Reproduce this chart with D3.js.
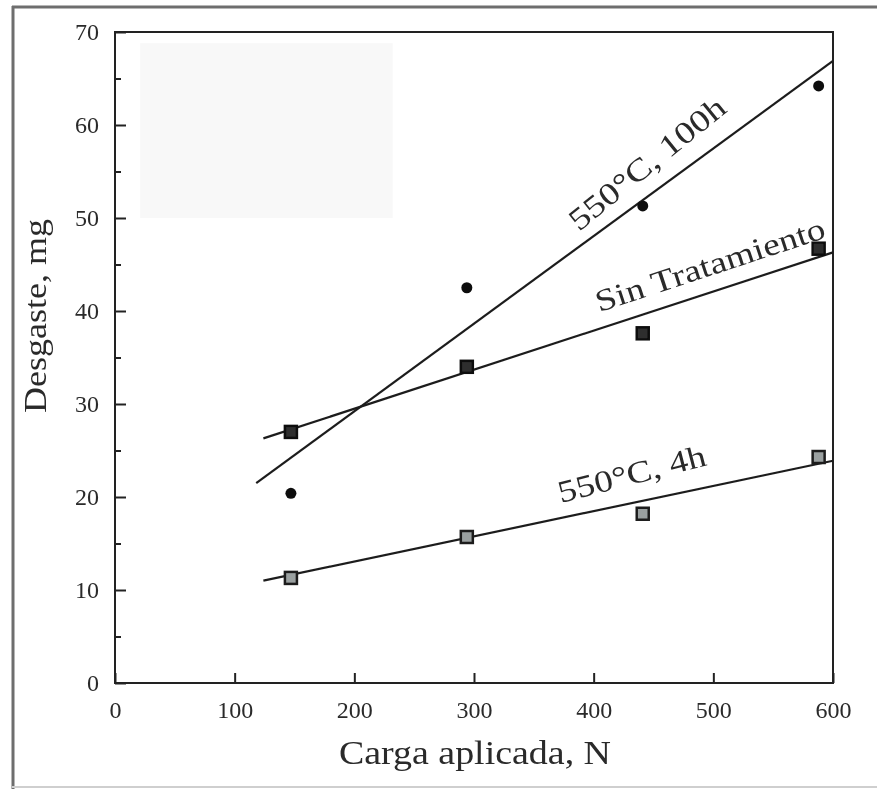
<!DOCTYPE html>
<html>
<head>
<meta charset="utf-8">
<script src="https://cdn.jsdelivr.net/npm/d3@7/dist/d3.min.js"></script>
<style>
  html, body { margin: 0; padding: 0; background: #fff; }
  svg { display: block; }
  text { font-family: "Liberation Serif", "DejaVu Serif", serif; fill: #2a2a2a; }
</style>
</head>
<body>
<script>
// Applied load (N) for each test
const loads = [147, 294, 441, 588];

// Measured wear (mg) for each condition
const wear100h = [20.4, 42.5, 51.3, 64.2];      // 550°C, 100h
const wearUntreated = [27.0, 34.0, 37.6, 46.7]; // Sin Tratamiento
const wear4h = [11.3, 15.7, 18.2, 24.3];        // 550°C, 4h

// Straight-line fits: [x start, x end] and [y start, y end]
const fit100hX = [118, 600];
const fit100hY = [21.5, 66.9];
const fitUntreatedX = [124, 600];
const fitUntreatedY = [26.3, 46.3];
const fit4hX = [124, 600];
const fit4hY = [11.0, 23.9];

// Axis ticks
const xTicks = [0, 100, 200, 300, 400, 500, 600];
const yTicks = [0, 10, 20, 30, 40, 50, 60, 70];
const yMinorTicks = [5, 15, 25, 35, 45, 55, 65];

const W = 877, H = 789;
const plot = { left: 115, right: 833, top: 32, bottom: 683 };

const svg = d3.select("body").append("svg")
  .attr("width", W).attr("height", H);

const defs = svg.append("defs");
defs.append("filter").attr("id", "soft")
  .attr("x", "-5%").attr("y", "-5%").attr("width", "110%").attr("height", "110%")
  .append("feGaussianBlur").attr("stdDeviation", 0.6);

// Outer frame
svg.append("line").attr("x1", 13).attr("x2", 13).attr("y1", 6).attr("y2", H)
  .attr("stroke", "#6e6e6e").attr("stroke-width", 3);
svg.append("line").attr("x1", 12).attr("x2", W).attr("y1", 7).attr("y2", 7)
  .attr("stroke", "#6e6e6e").attr("stroke-width", 3);
svg.append("line").attr("x1", 12).attr("x2", W).attr("y1", 787).attr("y2", 787)
  .attr("stroke", "#cfcfcf").attr("stroke-width", 2);

const g = svg.append("g").attr("filter", "url(#soft)");

const x = d3.scaleLinear().domain([0, 600]).range([plot.left, plot.right]);
const y = d3.scaleLinear().domain([0, 70]).range([plot.bottom, plot.top]);

// Faint patch in the upper-left of the plot
g.append("rect")
  .attr("x", x(21)).attr("y", y(68.8))
  .attr("width", x(232) - x(21)).attr("height", y(50) - y(68.8))
  .attr("fill", "#f8f8f8");

// Axes (ticks point inward)
const xAxis = g.append("g").attr("transform", `translate(0,${plot.bottom})`)
  .call(d3.axisBottom(x).tickValues(xTicks).tickSize(-10).tickPadding(18).tickFormat(d3.format("d")));
const yAxis = g.append("g").attr("transform", `translate(${plot.left},0)`)
  .call(d3.axisLeft(y).tickValues(yTicks).tickSize(-11).tickPadding(16).tickFormat(d3.format("d")));
g.append("g").attr("transform", `translate(${plot.left},0)`)
  .call(d3.axisLeft(y).tickValues(yMinorTicks).tickSize(-6).tickFormat(""))
  .call(a => a.select(".domain").remove());

[xAxis, yAxis].forEach(a => {
  a.select(".domain").remove();
  a.selectAll(".tick text").attr("font-size", 24).attr("fill", "#3a3a3a")
    .style("font-family", "'Liberation Serif', serif");
});
g.selectAll(".tick line").attr("stroke", "#222").attr("stroke-width", 2);

// Plot frame
g.append("rect")
  .attr("x", plot.left).attr("y", plot.top)
  .attr("width", plot.right - plot.left).attr("height", plot.bottom - plot.top)
  .attr("fill", "none").attr("stroke", "#222").attr("stroke-width", 2);

// Fit lines
const lineGen = d3.line().x(d => x(d[0])).y(d => y(d[1]));
[[fit100hX, fit100hY], [fitUntreatedX, fitUntreatedY], [fit4hX, fit4hY]].forEach(([fx, fy]) => {
  g.append("path")
    .attr("d", lineGen(fx.map((v, i) => [v, fy[i]])))
    .attr("fill", "none").attr("stroke", "#1e1e1e").attr("stroke-width", 2.2);
});

// 550°C, 100h — filled circles
g.selectAll(".c100").data(loads.map((l, i) => [l, wear100h[i]])).join("circle")
  .attr("class", "c100")
  .attr("cx", d => x(d[0])).attr("cy", d => y(d[1])).attr("r", 5.5)
  .attr("fill", "#111");

// Sin Tratamiento — filled squares
const sq = 12;
g.selectAll(".sUn").data(loads.map((l, i) => [l, wearUntreated[i]])).join("rect")
  .attr("class", "sUn")
  .attr("x", d => x(d[0]) - sq / 2).attr("y", d => y(d[1]) - sq / 2)
  .attr("width", sq).attr("height", sq)
  .attr("fill", "#2e2e2e").attr("stroke", "#111").attr("stroke-width", 2.5);

// 550°C, 4h — open squares
g.selectAll(".s4h").data(loads.map((l, i) => [l, wear4h[i]])).join("rect")
  .attr("class", "s4h")
  .attr("x", d => x(d[0]) - sq / 2).attr("y", d => y(d[1]) - sq / 2)
  .attr("width", sq).attr("height", sq)
  .attr("fill", "#9aa0a0").attr("stroke", "#1e1e1e").attr("stroke-width", 2.5);

// Curve labels
function curveLabel(txt, dx, dy, angle, len) {
  g.append("text")
    .attr("transform", `translate(${x(dx)},${y(dy)}) rotate(${angle})`)
    .attr("text-anchor", "middle")
    .attr("font-size", 31)
    .attr("textLength", len).attr("lengthAdjust", "spacingAndGlyphs")
    .text(txt);
}
curveLabel("550°C, 100h", 450, 55.0, -39, 192);
curveLabel("Sin Tratamiento", 500, 43.9, -18.2, 240);
curveLabel("550°C, 4h", 434, 21.4, -14.5, 152);

// Axis titles
g.append("text")
  .attr("x", (plot.left + plot.right) / 2 + 1).attr("y", 764)
  .attr("text-anchor", "middle").attr("font-size", 33)
  .attr("textLength", 272).attr("lengthAdjust", "spacingAndGlyphs")
  .text("Carga aplicada, N");

g.append("text")
  .attr("transform", `translate(46,316) rotate(-90)`)
  .attr("text-anchor", "middle").attr("font-size", 31)
  .attr("textLength", 194).attr("lengthAdjust", "spacingAndGlyphs")
  .text("Desgaste, mg");
</script>
</body>
</html>
